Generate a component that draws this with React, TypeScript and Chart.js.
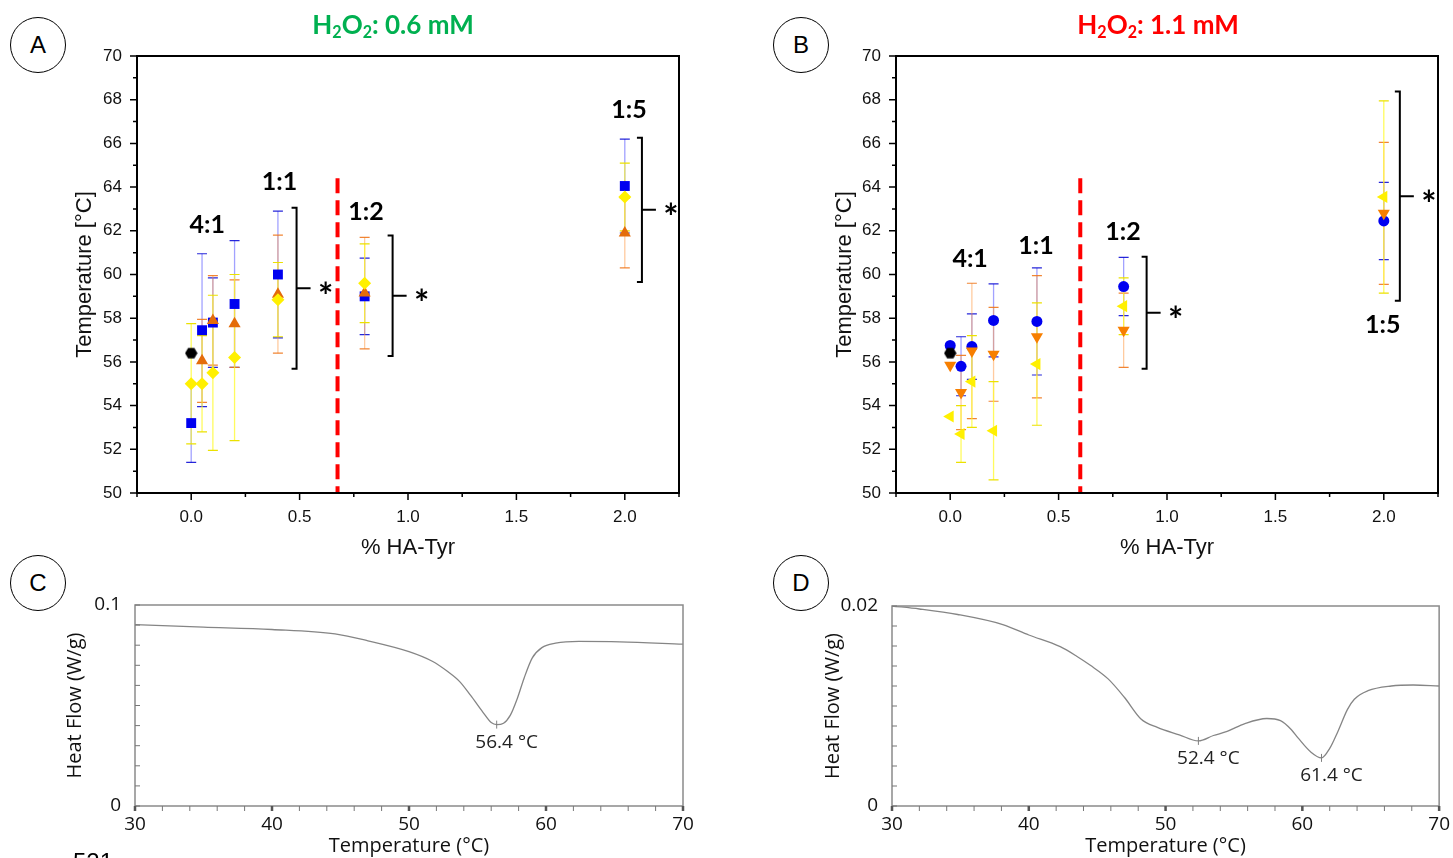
import React, { useEffect, useRef } from "react";
import { Chart, registerables } from "chart.js";
Chart.register(...registerables);

// ---------------- Panel A : H2O2 0.6 mM ----------------
const haTyrA = [0, 0.05, 0.1, 0.2, 0.4, 0.8, 2.0];
const blueA = [53.2, 57.45, 57.8, 58.65, 60.0, 59.0, 64.05];
const blueAErr = [1.8, 3.5, 2.05, 2.9, 2.9, 1.75, 2.15];
const haTyrOrangeA = [0.05, 0.1, 0.2, 0.4, 0.8, 2.0];
const orangeA = [56.05, 57.9, 57.75, 59.1, 59.15, 61.9];
const orangeAErr = [1.9, 2.05, 2.0, 2.7, 2.55, 1.6];
const yellowA = [55.0, 55.0, 55.5, 56.2, 58.85, 59.6, 63.55];
const yellowAErr = [2.75, 2.2, 3.55, 3.8, 1.7, 1.8, 1.55];

// control (no HA-Tyr)
const controlX = [0];
const controlY = [56.4];

// ---------------- Panel B : H2O2 1.1 mM ----------------
const haTyrB = [0, 0.05, 0.1, 0.2, 0.4, 0.8, 2.0];
const blueB = [56.75, 55.8, 56.7, 57.9, 57.85, 59.45, 62.45];
const blueBErr = [0, 1.35, 1.5, 1.67, 2.45, 1.33, 1.77];
const orangeB = [55.85, 54.6, 56.5, 56.35, 57.15, 57.45, 62.8];
const orangeBErr = [0, 1.7, 3.1, 2.15, 2.8, 1.7, 3.25];
const yellowB = [53.5, 52.7, 55.1, 52.85, 55.9, 58.55, 63.55];
const yellowBErr = [0, 1.3, 2.1, 2.25, 2.8, 1.3, 4.4];

// ratio annotations
const ratioLabels = ["4:1", "1:1", "1:2", "1:5"];
const ratioXA = [0.074, 0.407, 0.806, 2.019];
const ratioYA = [62.27, 64.23, 62.86, 67.53];
const ratioXB = [0.092, 0.396, 0.797, 1.995];
const ratioYB = [60.71, 61.3, 61.95, 57.69];

// significance brackets
const bracketXA = [0.486, 0.929, 2.079];
const bracketTopA = [63.06, 61.79, 66.26];
const bracketBottomA = [55.69, 56.27, 59.66];
const bracketXB = [0.906, 2.074];
const bracketTopB = [60.81, 68.37];
const bracketBottomB = [55.69, 58.8];

// dashed separators
const cutoffA = 0.675;
const cutoffB = 0.6;
const cutoffTop = 64.4;

// temperature panel axes
const tempTickValuesX = [-0.25, 0, 0.25, 0.5, 0.75, 1.0, 1.25, 1.5, 1.75, 2.0, 2.25];
const tempTickLabelsX = ["", "0.0", "", "0.5", "", "1.0", "", "1.5", "", "2.0", ""];
const tempTickValuesY = [50, 51, 52, 53, 54, 55, 56, 57, 58, 59, 60, 61, 62, 63, 64, 65, 66, 67, 68, 69, 70];
const tempTickLabelsY = ["50", "", "52", "", "54", "", "56", "", "58", "", "60", "", "62", "", "64", "", "66", "", "68", "", "70"];

// ---------------- Panel C : DSC ----------------
const tempC = [30, 35, 40, 44.6, 47, 50, 51.7, 52.8, 53.7, 54.5, 55.4, 56.0, 56.4, 56.9, 57.4, 57.9, 58.4, 59.0, 59.7, 60.7, 62.4, 65.4, 70];
const flowC = [0.0902, 0.089, 0.0878, 0.0856, 0.0822, 0.0768, 0.072, 0.067, 0.0619, 0.055, 0.0466, 0.0415, 0.0405, 0.0412, 0.0452, 0.0534, 0.0636, 0.0737, 0.0788, 0.081, 0.0819, 0.0817, 0.0805];
const peaksC = [56.4];

// ---------------- Panel D : DSC ----------------
const tempD = [30, 32, 34.8, 38.1, 40, 42.3, 43.5, 44.5, 45.8, 47, 48.2, 49.4, 51, 52.4, 53.5, 54.5, 55.8, 57.4, 58.4, 59.2, 59.7, 60.6, 61.4, 62, 62.6, 63.3, 63.8, 64.8, 66.5, 68.1, 70];
const flowD = [0.02, 0.0197, 0.01915, 0.01814, 0.0171, 0.01593, 0.01498, 0.01407, 0.01271, 0.01085, 0.00871, 0.00786, 0.00712, 0.00651, 0.00705, 0.00746, 0.00824, 0.00875, 0.00854, 0.00763, 0.00678, 0.00542, 0.00481, 0.00576, 0.00746, 0.00966, 0.01068, 0.01153, 0.012, 0.0121, 0.012];
const peaksD = [52.4, 61.4];

const dscTickValuesX = [30, 32, 34, 36, 38, 40, 42, 44, 46, 48, 50, 52, 54, 56, 58, 60, 62, 64, 66, 68, 70];
const dscTickLabelsX = ["30", "", "", "", "", "40", "", "", "", "", "50", "", "", "", "", "60", "", "", "", "", "70"];
const dscTickValuesYC = [0, 0.01, 0.02, 0.03, 0.04, 0.05, 0.06, 0.07, 0.08, 0.09, 0.1];
const dscTickLabelsYC = ["0", "", "", "", "", "", "", "", "", "", "0.1"];
const dscTickValuesYD = [0, 0.002, 0.004, 0.006, 0.008, 0.01, 0.012, 0.014, 0.016, 0.018, 0.02];
const dscTickLabelsYD = ["0", "", "", "", "", "", "", "", "", "", "0.02"];

// ---------------- styling ----------------
const FONT_AX = "'Liberation Sans', Arial, sans-serif";
const FONT_BOLD = "Lato, 'Open Sans', sans-serif";
const FONT_DSC = "'Open Sans', 'Noto Sans', sans-serif";
const BLUE = "#0000F0";

function hexagon(size: number) {
  const c = document.createElement("canvas");
  c.width = size;
  c.height = size;
  const g = c.getContext("2d")!;
  const r = size / 2;
  g.fillStyle = "#000";
  g.beginPath();
  for (let k = 0; k < 6; k++) {
    const a = (Math.PI / 3) * k;
    const px = r + (r - 0.3) * Math.cos(a);
    const py = r + (r - 0.3) * Math.sin(a);
    if (k === 0) g.moveTo(px, py);
    else g.lineTo(px, py);
  }
  g.closePath();
  g.fill();
  return c;
}

type Series = {
  xs: number[];
  ys: number[];
  errs?: number[];
  color: string;
  errColor?: string;
  capColor?: string;
  style: any;
  radius: number;
  rotation?: number;
  order: number;
};

function tempConfig(series: Series[], padLeft: number, padRight: number, yWidth: number, deco: any) {
  const datasets = series.map((s) => ({
    data: s.xs.map((x, i) => ({ x, y: s.ys[i] })),
    errors: s.errs,
    errColor: s.errColor,
    capColor: s.capColor,
    pointStyle: s.style,
    pointRadius: s.radius,
    pointRotation: s.rotation || 0,
    pointBackgroundColor: s.color,
    pointBorderColor: s.color,
    pointBorderWidth: 0,
    backgroundColor: s.color,
    borderColor: s.color,
    showLine: false,
    order: s.order,
  }));
  const plugin = {
    id: "tempDeco",
    beforeDatasetsDraw(chart: any) {
      const { ctx, scales } = chart;
      const x = scales.x, y = scales.y;
      ctx.save();
      ctx.strokeStyle = "#FF0000";
      ctx.lineWidth = 4;
      ctx.setLineDash([15, 7]);
      const cx = x.getPixelForValue(deco.cutoff);
      ctx.beginPath();
      ctx.moveTo(cx, y.getPixelForValue(cutoffTop));
      ctx.lineTo(cx, y.getPixelForValue(50));
      ctx.stroke();
      ctx.restore();
      chart.data.datasets.forEach((ds: any) => {
        if (!ds.errors) return;
        ctx.save();
        ds.data.forEach((p: any, j: number) => {
          const e = ds.errors[j];
          if (!e) return;
          const px = x.getPixelForValue(p.x);
          const t = y.getPixelForValue(p.y + e);
          const b = y.getPixelForValue(p.y - e);
          ctx.strokeStyle = ds.errColor;
          ctx.lineWidth = 1.3;
          ctx.beginPath();
          ctx.moveTo(px, t);
          ctx.lineTo(px, b);
          ctx.stroke();
          ctx.strokeStyle = ds.capColor;
          ctx.lineWidth = 1.2;
          ctx.beginPath();
          ctx.moveTo(px - 5, t);
          ctx.lineTo(px + 5, t);
          ctx.moveTo(px - 5, b);
          ctx.lineTo(px + 5, b);
          ctx.stroke();
        });
        ctx.restore();
      });
    },
    afterDatasetsDraw(chart: any) {
      const { ctx, scales } = chart;
      const x = scales.x, y = scales.y;
      ctx.save();
      ctx.strokeStyle = "#000";
      ctx.lineWidth = 2;
      ctx.fillStyle = "#000";
      deco.bx.forEach((bv: number, i: number) => {
        const px = x.getPixelForValue(bv);
        const t = y.getPixelForValue(deco.bt[i]);
        const b = y.getPixelForValue(deco.bb[i]);
        const m = (t + b) / 2;
        ctx.beginPath();
        ctx.moveTo(px - 5, t);
        ctx.lineTo(px, t);
        ctx.lineTo(px, b);
        ctx.lineTo(px - 5, b);
        ctx.moveTo(px, m);
        ctx.lineTo(px + 14, m);
        ctx.stroke();
        ctx.font = `bold 36px ${FONT_BOLD}`;
        ctx.textAlign = "center";
        ctx.textBaseline = "middle";
        ctx.fillText("*", px + 29, m + 9);
      });
      ctx.font = `bold 25px ${FONT_BOLD}`;
      ctx.textAlign = "center";
      ctx.textBaseline = "middle";
      ratioLabels.forEach((lab, i) => {
        ctx.fillText(lab, x.getPixelForValue(deco.rx[i]), y.getPixelForValue(deco.ry[i]));
      });
      ctx.restore();
    },
    afterDraw(chart: any) {
      const { ctx, chartArea, scales } = chart;
      const { left, top, right, bottom } = chartArea;
      ctx.save();
      ctx.strokeStyle = "#000";
      ctx.lineWidth = 2;
      ctx.strokeRect(left, top, right - left, bottom - top);
      ctx.lineWidth = 1.5;
      ctx.beginPath();
      tempTickValuesY.forEach((v, i) => {
        const py = scales.y.getPixelForValue(v);
        const len = tempTickLabelsY[i] ? 7 : 4;
        ctx.moveTo(left - len, py);
        ctx.lineTo(left, py);
      });
      tempTickValuesX.forEach((v, i) => {
        const px = scales.x.getPixelForValue(v);
        const len = tempTickLabelsX[i] ? 7 : 4;
        ctx.moveTo(px, bottom);
        ctx.lineTo(px, bottom + len);
      });
      ctx.stroke();
      ctx.restore();
    },
  };
  return {
    type: "scatter",
    data: { datasets },
    plugins: [plugin],
    options: {
      responsive: false,
      animation: false,
      devicePixelRatio: 1,
      layout: { padding: { left: padLeft, top: 56, right: padRight, bottom: 14 } },
      plugins: { legend: { display: false }, tooltip: { enabled: false } },
      scales: {
        x: {
          type: "linear",
          min: -0.25,
          max: 2.25,
          afterBuildTicks: (s: any) => {
            s.ticks = tempTickValuesX.map((value) => ({ value }));
          },
          afterFit: (s: any) => {
            s.height = 68;
          },
          ticks: {
            autoSkip: false,
            maxRotation: 0,
            padding: 6,
            color: "#111",
            font: { family: FONT_AX, size: 17 },
            callback: (_v: any, i: number) => tempTickLabelsX[i],
          },
          grid: { drawOnChartArea: false, color: "rgba(0,0,0,0)", tickLength: 8 },
          border: { display: false },
          title: { display: true, text: "% HA-Tyr", color: "#111", font: { family: FONT_AX, size: 22 }, padding: 0 },
        },
        y: {
          type: "linear",
          min: 50,
          max: 70,
          afterBuildTicks: (s: any) => {
            s.ticks = tempTickValuesY.map((value) => ({ value }));
          },
          afterFit: (s: any) => {
            s.width = yWidth;
          },
          ticks: {
            autoSkip: false,
            padding: 7,
            color: "#111",
            font: { family: FONT_AX, size: 17 },
            callback: (_v: any, i: number) => tempTickLabelsY[i],
          },
          grid: { drawOnChartArea: false, color: "rgba(0,0,0,0)", tickLength: 8 },
          border: { display: false },
          title: { display: true, text: "Temperature [°C]", color: "#111", font: { family: FONT_AX, size: 22 }, padding: 0 },
        },
      },
    },
  };
}

function dscConfig(temps: number[], flows: number[], peaks: number[], yMax: number, yVals: number[], yLabels: string[], padLeft: number, padTop: number, padRight: number, yWidth: number) {
  const plugin = {
    id: "dscDeco",
    afterDraw(chart: any) {
      const { ctx, chartArea, scales } = chart;
      const { left, top, right, bottom } = chartArea;
      ctx.save();
      ctx.strokeStyle = "#8a8a8a";
      ctx.lineWidth = 1.5;
      ctx.strokeRect(left, top, right - left, bottom - top);
      ctx.lineWidth = 1;
      ctx.strokeStyle = "#777";
      ctx.beginPath();
      yVals.forEach((v) => {
        const py = scales.y.getPixelForValue(v);
        ctx.moveTo(left, py);
        ctx.lineTo(left + 5, py);
      });
      dscTickValuesX.forEach((v) => {
        const px = scales.x.getPixelForValue(v);
        ctx.moveTo(px, bottom);
        ctx.lineTo(px, bottom + 5);
      });
      ctx.stroke();
      ctx.lineWidth = 2.5;
      ctx.strokeStyle = "#555";
      ctx.beginPath();
      dscTickValuesX.forEach((v, i) => {
        if (!dscTickLabelsX[i]) return;
        const px = scales.x.getPixelForValue(v);
        ctx.moveTo(px, bottom);
        ctx.lineTo(px, bottom + 5);
      });
      ctx.stroke();
      // peak markers
      ctx.fillStyle = "#222";
      ctx.strokeStyle = "#808080";
      ctx.lineWidth = 1;
      ctx.font = `19px ${FONT_DSC}`;
      ctx.textAlign = "center";
      ctx.textBaseline = "middle";
      peaks.forEach((t) => {
        const idx = temps.indexOf(t);
        const px = scales.x.getPixelForValue(t);
        const py = scales.y.getPixelForValue(flows[idx]);
        ctx.beginPath();
        ctx.moveTo(px, py - 4);
        ctx.lineTo(px, py + 4);
        ctx.stroke();
        ctx.fillText(`${t.toFixed(1)} °C`, px + 10, py + 18);
      });
      ctx.restore();
    },
  };
  return {
    type: "line",
    data: {
      datasets: [
        {
          data: temps.map((t, i) => ({ x: t, y: flows[i] })),
          borderColor: "#858585",
          borderWidth: 1.3,
          pointRadius: 0,
          cubicInterpolationMode: "monotone",
          fill: false,
        },
      ],
    },
    plugins: [plugin],
    options: {
      responsive: false,
      animation: false,
      devicePixelRatio: 1,
      layout: { padding: { left: padLeft, top: padTop, right: padRight, bottom: 0 } },
      plugins: { legend: { display: false }, tooltip: { enabled: false } },
      scales: {
        x: {
          type: "linear",
          min: 30,
          max: 70,
          afterBuildTicks: (s: any) => {
            s.ticks = dscTickValuesX.map((value) => ({ value }));
          },
          afterFit: (s: any) => {
            s.height = 52;
          },
          ticks: {
            autoSkip: false,
            maxRotation: 0,
            padding: 3,
            color: "#111",
            font: { family: FONT_DSC, size: 19 },
            callback: (_v: any, i: number) => dscTickLabelsX[i],
          },
          grid: { drawOnChartArea: false, color: "rgba(0,0,0,0)", tickLength: 4 },
          border: { display: false },
          title: { display: true, text: "Temperature (°C)", color: "#111", font: { family: FONT_DSC, size: 20 }, padding: 0 },
        },
        y: {
          type: "linear",
          min: 0,
          max: yMax,
          afterBuildTicks: (s: any) => {
            s.ticks = yVals.map((value) => ({ value }));
          },
          afterFit: (s: any) => {
            s.width = yWidth;
          },
          ticks: {
            autoSkip: false,
            padding: 6,
            color: "#111",
            font: { family: FONT_DSC, size: 19 },
            callback: (_v: any, i: number) => yLabels[i],
          },
          grid: { drawOnChartArea: false, color: "rgba(0,0,0,0)", tickLength: 8 },
          border: { display: false },
          title: { display: true, text: "Heat Flow (W/g)", color: "#111", font: { family: FONT_DSC, size: 20 }, padding: 0 },
        },
      },
    },
  };
}

function ChartBox(props: { left: number; top: number; width: number; height: number; build: () => any }) {
  const ref = useRef<HTMLCanvasElement>(null);
  useEffect(() => {
    const chart = new Chart(ref.current as HTMLCanvasElement, props.build());
    return () => chart.destroy();
  }, []);
  return (
    <canvas
      ref={ref}
      width={props.width}
      height={props.height}
      style={{ position: "absolute", left: props.left, top: props.top, width: props.width, height: props.height }}
    />
  );
}

function PanelLetter(props: { x: number; y: number; text: string }) {
  return (
    <div
      style={{
        position: "absolute",
        left: props.x - 28,
        top: props.y - 28,
        width: 56,
        height: 56,
        borderRadius: "50%",
        border: "1.5px solid #000",
        boxSizing: "border-box",
        display: "flex",
        alignItems: "center",
        justifyContent: "center",
        font: `24px ${FONT_AX}`,
        color: "#000",
        background: "#fff",
      }}
    >
      {props.text}
    </div>
  );
}

const subStyle: React.CSSProperties = { fontSize: "0.62em", verticalAlign: "-0.25em", lineHeight: 0 };

function Title(props: { x: number; color: string; conc: string }) {
  return (
    <div
      style={{
        position: "absolute",
        left: props.x,
        top: 9,
        transform: "translateX(-50%)",
        color: props.color,
        font: `bold 26px ${FONT_BOLD}`,
        lineHeight: "30px",
        whiteSpace: "nowrap",
      }}
    >
      H<sub style={subStyle}>2</sub>O<sub style={subStyle}>2</sub>: {props.conc}
    </div>
  );
}

export default function App() {
  const hex = hexagon(13);
  const seriesA: Series[] = [
    { xs: haTyrA, ys: blueA, errs: blueAErr, color: BLUE, errColor: "rgba(70,70,255,0.5)", capColor: "rgba(0,0,210,0.85)", style: "rect", radius: 7, order: 3 },
    { xs: haTyrOrangeA, ys: orangeA, errs: orangeAErr, color: "#E46C0A", errColor: "rgba(255,160,80,0.55)", capColor: "rgba(240,120,30,0.9)", style: "triangle", radius: 7, order: 2 },
    { xs: haTyrA, ys: yellowA, errs: yellowAErr, color: "#FFF000", errColor: "rgba(255,250,40,0.75)", capColor: "rgba(235,225,0,1)", style: "rectRot", radius: 6.5, order: 1 },
    { xs: controlX, ys: controlY, color: "#000", style: hex, radius: 6.5, order: 0 },
  ];
  const seriesB: Series[] = [
    { xs: haTyrB, ys: blueB, errs: blueBErr, color: BLUE, errColor: "rgba(70,70,255,0.5)", capColor: "rgba(0,0,210,0.85)", style: "circle", radius: 5.5, order: 3 },
    { xs: haTyrB, ys: orangeB, errs: orangeBErr, color: "#F77F00", errColor: "rgba(255,160,80,0.55)", capColor: "rgba(240,120,30,0.9)", style: "triangle", radius: 7, rotation: 180, order: 2 },
    { xs: haTyrB, ys: yellowB, errs: yellowBErr, color: "#FFF000", errColor: "rgba(255,250,40,0.75)", capColor: "rgba(235,225,0,1)", style: "triangle", radius: 7, rotation: 270, order: 1 },
    { xs: controlX, ys: controlY, color: "#000", style: hex, radius: 6.5, order: 0 },
  ];
  return (
    <div style={{ position: "fixed", left: 0, top: 0, width: 1453, height: 858, overflow: "hidden", background: "#fff" }}>
      <ChartBox
        left={0}
        top={0}
        width={720}
        height={575}
        build={() => tempConfig(seriesA, 72, 41, 65, { cutoff: cutoffA, bx: bracketXA, bt: bracketTopA, bb: bracketBottomA, rx: ratioXA, ry: ratioYA })}
      />
      <ChartBox
        left={760}
        top={0}
        width={693}
        height={575}
        build={() => tempConfig(seriesB, 72, 15, 64, { cutoff: cutoffB, bx: bracketXB, bt: bracketTopB, bb: bracketBottomB, rx: ratioXB, ry: ratioYB })}
      />
      <ChartBox
        left={0}
        top={575}
        width={720}
        height={283}
        build={() => dscConfig(tempC, flowC, peaksC, 0.1, dscTickValuesYC, dscTickLabelsYC, 63, 30, 37, 72)}
      />
      <ChartBox
        left={760}
        top={575}
        width={693}
        height={283}
        build={() => dscConfig(tempD, flowD, peaksD, 0.02, dscTickValuesYD, dscTickLabelsYD, 61, 31, 13, 71)}
      />
      <Title x={393} color="#00B050" conc="0.6 mM" />
      <Title x={1158} color="#FF0000" conc="1.1 mM" />
      <PanelLetter x={38} y={45} text="A" />
      <PanelLetter x={801} y={45} text="B" />
      <PanelLetter x={38} y={583} text="C" />
      <PanelLetter x={801} y={583} text="D" />
      <div style={{ position: "absolute", left: 73, top: 850, font: `24px ${FONT_AX}`, lineHeight: "24px", color: "#000" }}>521</div>
    </div>
  );
}
